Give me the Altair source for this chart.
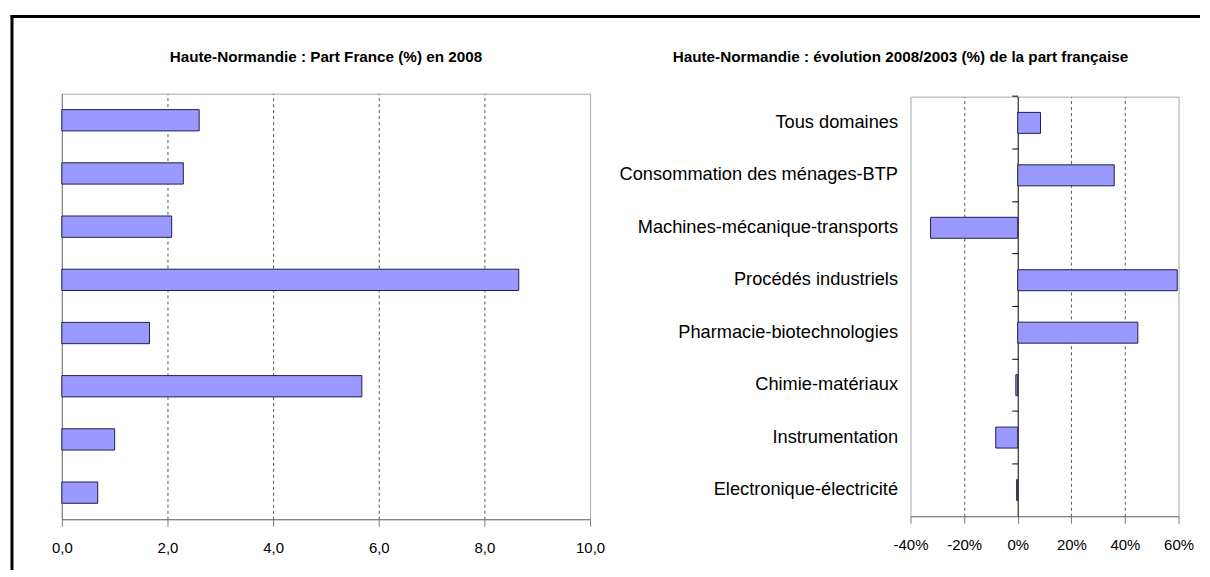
import altair as alt
import pandas as pd

# ---- data ----
categories = [
    "Tous domaines",
    "Consommation des ménages-BTP",
    "Machines-mécanique-transports ",
    "Procédés industriels",
    "Pharmacie-biotechnologies",
    "Chimie-matériaux",
    "Instrumentation",
    "Electronique-électricité",
]
part_2008 = [2.6, 2.3, 2.08, 8.65, 1.66, 5.68, 1.0, 0.68]
evolution = [8.5, 36.0, -32.5, 59.5, 44.8, -0.7, -8.2, -0.4]
left_ticks = [0, 2, 4, 6, 8, 10]
right_ticks = [-40, -20, 0, 20, 40, 60]
left_title = "Haute-Normandie : Part France (%) en 2008"
right_title = "Haute-Normandie : évolution 2008/2003 (%) de la part française"

FONT = "Liberation Sans, Arial, sans-serif"

df = pd.DataFrame({"cat": categories, "part": part_2008, "evo": evolution})
frame = pd.DataFrame({"k": [0]})

bar_style = dict(color="#9999FF", stroke="#20204a", strokeWidth=1)
grid_hide_edges = {
    "condition": {
        "test": "datum.value == 0 || datum.value == 10 || datum.value == -40 || datum.value == 60",
        "value": 0,
    },
    "value": 1,
}

LW, LH = 530, 427
RW, RH = 269, 421


def x_axis(ticks, expr):
    return alt.Axis(
        values=ticks, labelExpr=expr, labelFlush=False,
        grid=True, gridDash=[3, 3], gridColor="#555555", gridOpacity=grid_hide_edges,
        domainColor="#777777", tickColor="#777777", tickSize=7,
        labelFontSize=15, labelPadding=14, labelColor="black", labelFont=FONT,
        title=None,
    )


left_bars = alt.Chart(df).mark_bar(**bar_style).encode(
    x=alt.X("part:Q", scale=alt.Scale(domain=[0, 10], nice=False),
            axis=x_axis(left_ticks, "replace(format(datum.value, '.1f'), '.', ',')")),
    y=alt.Y("cat:N", sort=categories,
            scale=alt.Scale(domain=categories, paddingInner=0.6, paddingOuter=0.3),
            axis=alt.Axis(labels=False, ticks=False, tickSize=0, domain=True,
                          domainColor="#777777", grid=False, title=None, minExtent=0)),
)

top_line = alt.Chart(frame).mark_rule(color="black", strokeWidth=3).encode(
    x=alt.value(-51.5), x2=alt.value(1142), y=alt.value(-77.5)
)
left_line = alt.Chart(frame).mark_rule(color="black", strokeWidth=3).encode(
    x=alt.value(-50), y=alt.value(-79), y2=alt.value(478)
)
left_title_mark = alt.Chart(frame).mark_text(
    font=FONT, fontSize=15.3, fontWeight="bold", color="black", align="center", baseline="middle"
).encode(x=alt.value(265), y=alt.value(-37), text=alt.value(left_title))

left = alt.layer(left_bars, top_line, left_line, left_title_mark).properties(width=LW, height=LH)

right_y_scale = alt.Scale(domain=categories, paddingInner=0.6, paddingOuter=0.3)
right_x_enc = alt.X("evo:Q", scale=alt.Scale(domain=[-40, 60], nice=False),
                    axis=x_axis(right_ticks, "datum.value + '%'"))

right_bars = alt.Chart(df).mark_bar(**bar_style).encode(
    x=right_x_enc,
    y=alt.Y("cat:N", sort=categories, scale=right_y_scale,
            axis=alt.Axis(orient="left", ticks=False, tickSize=0, domain=False,
                          labelPadding=13, labelFontSize=18.3, labelLimit=600,
                          labelColor="black", labelFont=FONT, grid=False, title=None)),
)

zero_axis = alt.Chart(df).mark_bar(opacity=0).encode(
    x=right_x_enc,
    y=alt.Y("cat:N", sort=categories, scale=right_y_scale,
            axis=alt.Axis(orient="left", offset=-RW * 0.4, bandPosition=-0.75,
                          labels=False, ticks=True, tickSize=6, tickColor="black",
                          domain=True, domainColor="black", grid=False, title=None)),
)

right_title_mark = alt.Chart(frame).mark_text(
    font=FONT, fontSize=15.3, fontWeight="bold", color="black", align="center", baseline="middle"
).encode(x=alt.value(-10), y=alt.value(-40), text=alt.value(right_title))

right = alt.layer(right_bars, zero_axis, right_title_mark).resolve_axis(y="independent").properties(
    width=RW, height=RH
)

chart = alt.hconcat(left, right, spacing=321.5, bounds="flush", center=True).properties(
    padding={"left": 0, "top": 4, "right": 0, "bottom": 0},
    background="white",
).configure_view(
    stroke="#a8a8a8"
)

chart.save("out.html", embed_options={"renderer": "svg", "actions": False})
